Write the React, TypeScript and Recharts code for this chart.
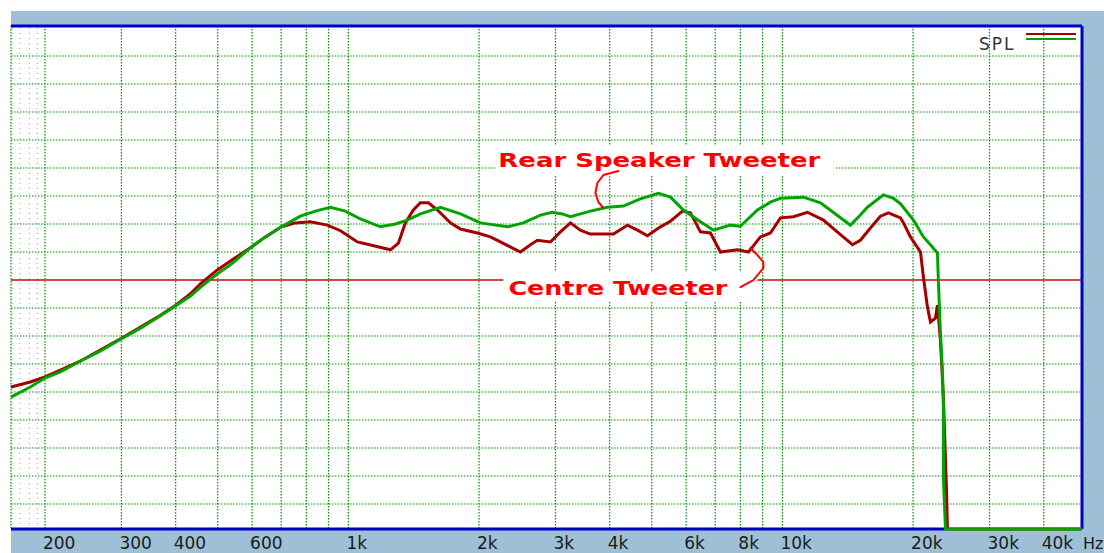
import React from 'react'
import { LineChart, Line, XAxis, YAxis, CartesianGrid, ReferenceLine, ReferenceDot, Legend } from 'recharts'

// frequency axis (Hz), log scale
const freqDomain = [167, 49000]
const gridFreqs = [200, 300, 400, 500, 600, 700, 800, 900, 1000, 2000, 3000, 4000, 5000, 6000, 7000, 8000, 9000, 10000, 20000, 30000, 40000]
const labelFreqs = [200, 300, 400, 600, 1000, 2000, 3000, 4000, 6000, 8000, 10000, 20000, 30000, 40000]
const labelTexts = ['200', '300', '400', '600', '1k', '2k', '3k', '4k', '6k', '8k', '10k', '20k', '30k', '40k']
const minorFreqs = [168, 175, 184, 192]

// level axis (dB relative to the red reference line), 5 dB per division
const levelDomain = [-44.46, 45.36]
const levelTicks = [-40, -35, -30, -25, -20, -15, -10, -5, 0, 5, 10, 15, 20, 25, 30, 35, 40]

// Centre Tweeter (dark red)
const centreFreq = [167, 185, 200, 217, 241, 268, 300, 332, 369, 400, 432, 456, 499, 535, 598, 644, 701, 755, 817, 895, 959, 1049, 1106, 1250, 1304, 1353, 1412, 1465, 1529, 1604, 1718, 1812, 1983, 2124, 2240, 2491, 2627, 2726, 2920, 3080, 3248, 3423, 3610, 4080, 4394, 4634, 4887, 5236, 5521, 5884, 6138, 6473, 6826, 7197, 7876, 8350, 8897, 9384, 9895, 10600, 11420, 12430, 13460, 14500, 15120, 15950, 16820, 17550, 18710, 19010, 19720, 20800, 21130, 21580, 21930, 22520, 22760, 23120, 23500, 23880, 24000, 49000]
const centreDb = [-19.1, -18.2, -17.3, -16.1, -14.5, -12.5, -10.4, -8.4, -6.3, -4.5, -2.5, -0.7, 1.8, 3.4, 5.9, 7.7, 9.5, 10.2, 10.4, 9.8, 8.8, 6.8, 6.4, 5.4, 6.6, 10.2, 12.5, 13.8, 13.8, 12.5, 10.2, 9.1, 8.4, 7.7, 6.8, 5.0, 6.3, 7.1, 6.8, 8.6, 10.2, 8.9, 8.2, 8.2, 9.8, 8.9, 7.9, 9.5, 10.5, 12.3, 12.0, 8.6, 8.4, 5.0, 5.4, 5.0, 7.7, 8.4, 11.1, 11.3, 12.1, 10.7, 8.4, 6.3, 7.1, 9.3, 11.4, 12.0, 11.1, 10.2, 7.7, 5.0, 0.5, -4.8, -7.5, -6.8, -4.5, -10.7, -21.4, -37.5, -44.46, -44.46]

// Rear Speaker Tweeter (green)
const rearFreq = [167, 185, 200, 217, 241, 268, 300, 332, 369, 400, 432, 456, 499, 535, 598, 644, 701, 775, 840, 909, 984, 1066, 1185, 1283, 1367, 1465, 1629, 1812, 2015, 2325, 2531, 2770, 2951, 3112, 3248, 3610, 3952, 4301, 4708, 5181, 5521, 5915, 6473, 6935, 7589, 8003, 8757, 9384, 9895, 11180, 12240, 13250, 14350, 15120, 15700, 17090, 18030, 18710, 20040, 21130, 21930, 22760, 22880, 23120, 23370, 23500, 23500, 23750, 49000]
const rearDb = [-20.9, -19.1, -17.5, -16.4, -14.5, -12.7, -10.5, -8.6, -6.4, -4.6, -2.9, -1.3, 1.1, 2.7, 5.9, 7.7, 9.5, 11.4, 12.3, 13.0, 12.3, 10.9, 9.5, 10.0, 10.7, 11.8, 13.0, 11.8, 10.2, 9.5, 10.2, 11.6, 12.1, 11.8, 11.3, 12.3, 13.0, 13.2, 14.5, 15.5, 14.8, 12.5, 10.4, 8.9, 9.8, 9.6, 12.5, 13.9, 14.6, 14.8, 13.8, 11.8, 9.8, 11.6, 13.0, 15.2, 14.6, 13.6, 10.7, 7.7, 6.3, 4.8, -0.5, -9.5, -16.1, -23.2, -35.7, -44.46, -44.46]

const centreData = centreFreq.map((f, i) => ({ f, db: centreDb[i] }))
const rearData = rearFreq.map((f, i) => ({ f, db: rearDb[i] }))

const RED_TEXT = '#ff0000'
const BORDER = '#0000c4'

function FreqTick({ x, payload }: any) {
  const i = labelFreqs.indexOf(payload.value)
  if (i < 0) return <g />
  return (
    <text x={x - 2} y={549} textAnchor="start" fontFamily="DejaVu Sans" fontSize={17} fill="#1a1a1a">
      {labelTexts[i]}
    </text>
  )
}

// text note with a white box behind it and a hand-drawn pointer
function Note({ cx, cy, text, textWidth, box, pointer }: any) {
  if (cx == null || cy == null) return <g />
  const pts = pointer.map(([dx, dy]: number[]) => `${cx + dx},${cy + dy}`).join(' ')
  return (
    <g>
      <rect x={cx + box[0]} y={cy + box[1]} width={box[2]} height={box[3]} fill="#ffffff" />
      <text
        x={cx}
        y={cy}
        fontFamily="DejaVu Sans"
        fontWeight="bold"
        fontSize={20}
        fill={RED_TEXT}
        textLength={textWidth}
        lengthAdjust="spacingAndGlyphs"
      >
        {text}
      </text>
      <polyline points={pts} fill="none" stroke={RED_TEXT} strokeWidth={2} strokeLinejoin="round" strokeLinecap="round" />
    </g>
  )
}

function SplLegend() {
  return (
    <svg width={110} height={30} style={{ display: 'block' }}>
      <text x={4} y={24} fontFamily="DejaVu Sans" fontSize={17} fill="#333" letterSpacing={2}>
        SPL
      </text>
      <line x1={51} x2={101} y1={8} y2={8} stroke="#a00000" strokeWidth={2} />
      <line x1={51} x2={101} y1={13} y2={13} stroke="#00a400" strokeWidth={2} />
    </svg>
  )
}

export default function App() {
  return (
    <div style={{ position: 'absolute', left: 0, top: 0, width: 1104, height: 553, background: '#ffffff', overflow: 'hidden' }}>
      <div style={{ position: 'absolute', left: 11, top: 11, width: 1093, height: 542, background: '#9ec0d6' }} />
      <div style={{ position: 'absolute', left: 0, top: 0 }}>
        <LineChart width={1104} height={553} margin={{ top: 26, right: 22, bottom: 0, left: 11 }}>
          <CartesianGrid fill="#ffffff" stroke="#008f00" strokeDasharray="1.5 1.5" strokeWidth={1.2} />
          <XAxis
            dataKey="f"
            type="number"
            scale="log"
            domain={freqDomain}
            ticks={gridFreqs}
            interval={0}
            height={24}
            axisLine={false}
            tickLine={false}
            tick={<FreqTick />}
            label={{
              content: ({ viewBox }: any) => (
                <text x={viewBox.x + viewBox.width + 1} y={549} fontFamily="DejaVu Sans" fontSize={16} fill="#1a1a1a">
                  Hz
                </text>
              ),
            }}
          />
          <YAxis type="number" domain={levelDomain} ticks={levelTicks} hide />
          {minorFreqs.map((f) => (
            <ReferenceLine key={f} x={f} stroke="#a0a0a0" strokeDasharray="1 4" />
          ))}
          <ReferenceLine y={0} stroke="#d64444" strokeWidth={2} />
          <ReferenceLine y={levelDomain[1]} stroke={BORDER} strokeWidth={3} />
          <ReferenceLine x={freqDomain[1]} stroke={BORDER} strokeWidth={3} />
          <ReferenceLine
            segment={[{ x: freqDomain[0], y: levelDomain[0] }, { x: 23700, y: levelDomain[0] }]}
            stroke={BORDER}
            strokeWidth={3}
          />
          <Line data={centreData} dataKey="db" name="SPL" type="linear" stroke="#a40000" strokeWidth={3} dot={false} isAnimationActive={false} />
          <Line data={rearData} dataKey="db" name="SPL" type="linear" stroke="#00a400" strokeWidth={3} dot={false} isAnimationActive={false} />
          <ReferenceDot
            x={2216}
            y={20.18}
            r={0}
            shape={(p: any) => (
              <Note
                cx={p.cx}
                cy={p.cy}
                text="Rear Speaker Tweeter"
                textWidth={322}
                box={[-3, -21, 340, 30]}
                pointer={[[120, 4], [105, 8], [99, 16], [97, 26], [100, 35], [105, 41]]}
              />
            )}
          />
          <ReferenceDot
            x={2337}
            y={-2.68}
            r={0}
            shape={(p: any) => (
              <Note
                cx={p.cx}
                cy={p.cy}
                text="Centre Tweeter"
                textWidth={219}
                box={[-5, -24, 254, 30]}
                pointer={[[232, -8], [245, -15], [255, -27], [255, -33], [249, -40], [242, -47]]}
              />
            )}
          />
          <Legend
            layout="horizontal"
            verticalAlign="middle"
            align="center"
            wrapperStyle={{ top: 26, left: 975, width: 110, height: 30 }}
            content={() => <SplLegend />}
          />
        </LineChart>
      </div>
    </div>
  )
}
